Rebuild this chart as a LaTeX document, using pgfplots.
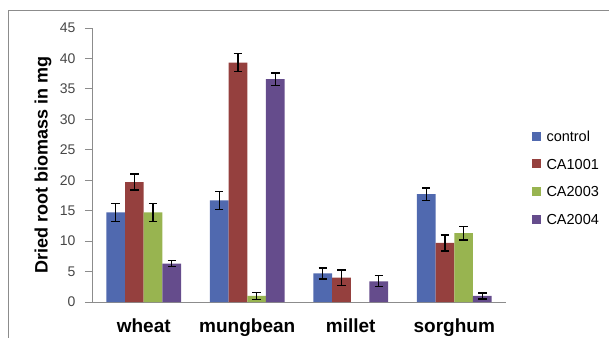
\documentclass[border=0pt]{standalone}
\usepackage{pgfplots}
\pgfplotsset{compat=1.18}
\usepackage{fontspec}
\setmainfont{Liberation Sans}
\definecolor{cblue}{RGB}{80,105,175}
\definecolor{cred}{RGB}{149,64,62}
\definecolor{cgreen}{RGB}{152,180,80}
\definecolor{cpurple}{RGB}{101,76,140}
\definecolor{axgray}{RGB}{140,140,140}
\definecolor{tickgray}{RGB}{70,70,70}
\pgfplotsset{eb/.style={error bars/y dir=both, error bars/y explicit,
  error bars/error bar style={black, line width=1.3pt},
  error bars/error mark options={black, line width=1.3pt, mark size=4.2pt, rotate=90}}}
\begin{document}
\begin{tikzpicture}
\begin{axis}[
  name=ax, at={(0,0)}, anchor=south west,
  scale only axis, width=414pt, height=274pt,
  ybar=0pt, bar width=18.7pt,
  xmin=-0.5, xmax=3.5, ymin=0, ymax=45,
  ytick={0,5,...,45},
  xtick={0,1,2,3},
  xticklabels={wheat,mungbean,millet,sorghum},
  extra x ticks={-0.5,0.5,1.5,2.5,3.5},
  extra x tick labels={},
  extra x tick style={major tick length=5pt, tick style={axgray, line width=0.8pt}},
  major x tick style={draw=none},
  tick align=outside,
  major tick length=7pt,
  ytick style={axgray, line width=0.8pt},
  axis x line*=bottom, axis y line*=left,
  axis line style={axgray, line width=0.8pt, -},
  /pgf/number format/assume math mode=true,
  yticklabel style={font=\fontsize{14}{16}\selectfont, text=tickgray, xshift=-6pt},
  xticklabel style={font=\fontsize{19}{22}\selectfont\bfseries, yshift=-6pt},
  ylabel={Dried root biomass in mg},
  every axis y label/.style={at={(axis description cs:-0.1184,0.5)}, rotate=90, anchor=center, font=\fontsize{18}{21}\selectfont\bfseries},
  legend style={draw=none, fill=none, inner sep=0pt, at={(axis description cs:1.0628,0.6323)}, anchor=north west,
     font=\fontsize{14.5}{16}\selectfont, row sep=13.2pt,
     nodes={inner sep=2pt, text height=10.5pt, text depth=0pt},
     /tikz/every odd column/.append style={column sep=3.3pt}},
  legend cell align=left,
  legend image code/.code={\fill[#1] (0pt,-4.5pt) rectangle (9pt,4.5pt);},
]
\addplot[fill=cblue, draw=none, eb] coordinates {(0,14.7) +- (0,1.5) (1,16.7) +- (0,1.5) (2,4.7) +- (0,0.9) (3,17.7) +- (0,1.0)};
\addplot[fill=cred, draw=none, eb] coordinates {(0,19.7) +- (0,1.3) (1,39.3) +- (0,1.5) (2,4.0) +- (0,1.25) (3,9.7) +- (0,1.3)};
\addplot[fill=cgreen, draw=none, eb] coordinates {(0,14.7) +- (0,1.5) (1,1.0) +- (0,0.6) (3,11.3) +- (0,1.1)};
\addplot[fill=cpurple, draw=none, eb] coordinates {(0,6.3) +- (0,0.5) (1,36.6) +- (0,1.0) (2,3.4) +- (0,0.9) (3,1.0) +- (0,0.5)};
\legend{control,CA1001,CA2003,CA2004}
\end{axis}
\draw[axgray, line width=1.5pt] (560pt,291.5pt) -- (-83.4pt,291.5pt) -- (-83.4pt,-60pt);
\pgfresetboundingbox
\path[use as bounding box] (-92pt,-35pt) rectangle (517pt,302pt);
\end{tikzpicture}
\end{document}
